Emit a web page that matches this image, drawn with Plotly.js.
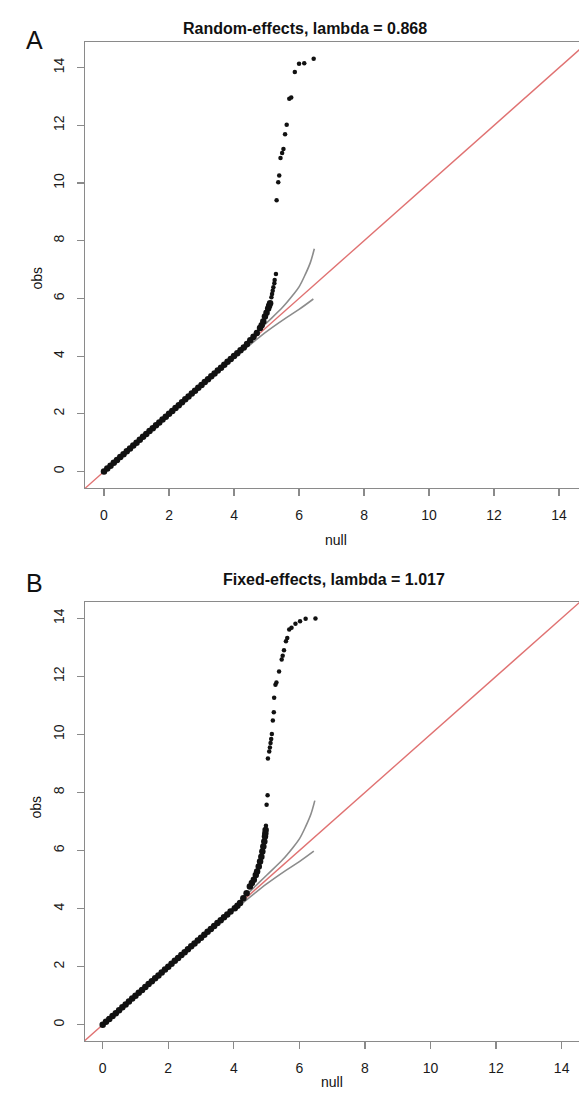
<!DOCTYPE html>
<html>
<head>
<meta charset="utf-8">
<script src="https://cdn.plot.ly/plotly-3.0.1.min.js"></script>
<style>html,body{margin:0;padding:0;background:#fff;overflow:hidden}</style>
</head>
<body>
<div id="chart" style="width:600px;height:1102px"></div>
<script>
// ---------- data ----------
const tickVals = [0, 2, 4, 6, 8, 10, 12, 14];
const refLine = [-1, 16];            // y = x reference line

// Panel A: Random-effects
const aBandX = [0,0.1,0.2,0.3,0.4,0.5,0.6,0.7,0.8,0.9,1.0,1.1,1.2,1.3,1.4,1.5,1.6,1.7,1.8,1.9,2.0,2.1,2.2,2.3,2.4,2.5,2.6,2.7,2.8,2.9,3.0,3.1,3.2,3.3,3.4,3.5,3.6,3.7,3.8,3.9,4.0,4.1,4.2,4.3,4.4,4.5,4.6,4.7,4.8,4.85,4.9,4.95,5.0,5.05,5.08,5.11];
const aBandY = [0,0.1,0.2,0.3,0.4,0.5,0.6,0.7,0.8,0.9,1.0,1.1,1.2,1.3,1.4,1.5,1.6,1.7,1.8,1.9,2.0,2.1,2.2,2.3,2.4,2.5,2.6,2.7,2.8,2.9,3.0,3.1,3.2,3.3,3.4,3.5,3.6,3.7,3.8,3.9,4.0,4.1,4.2,4.3,4.42,4.55,4.67,4.8,4.97,5.07,5.2,5.37,5.5,5.65,5.75,5.83];
const aTailX = [5.15,5.17,5.19,5.21,5.24,5.25,5.29,5.31,5.36,5.39,5.43,5.48,5.52,5.57,5.62,5.70,5.76,5.87,6.00,6.16,6.45];
const aTailY = [6.04,6.15,6.27,6.39,6.53,6.64,6.85,9.40,10.03,10.26,10.87,11.04,11.18,11.69,12.02,12.92,12.97,13.85,14.14,14.15,14.31];

// Panel B: Fixed-effects
const bBandX = [0,0.1,0.2,0.3,0.4,0.5,0.6,0.7,0.8,0.9,1.0,1.1,1.2,1.3,1.4,1.5,1.6,1.7,1.8,1.9,2.0,2.1,2.2,2.3,2.4,2.5,2.6,2.7,2.8,2.9,3.0,3.1,3.2,3.3,3.4,3.5,3.6,3.7,3.8,3.9,4.03,4.11,4.19,4.29,4.39,4.49,4.55,4.61,4.67,4.71,4.76,4.80,4.84,4.87,4.90,4.93,4.95,4.96,4.97];
const bBandY = [0,0.1,0.2,0.3,0.4,0.5,0.6,0.7,0.8,0.9,1.0,1.1,1.2,1.3,1.4,1.5,1.6,1.7,1.8,1.9,2.0,2.1,2.2,2.3,2.4,2.5,2.6,2.7,2.8,2.9,3.0,3.1,3.2,3.3,3.4,3.5,3.6,3.7,3.8,3.9,4.01,4.1,4.19,4.36,4.53,4.76,4.88,4.99,5.16,5.28,5.45,5.62,5.79,5.97,6.14,6.31,6.48,6.59,6.71];
const bTailX = [4.98,5.00,5.03,5.04,5.08,5.10,5.12,5.14,5.16,5.19,5.22,5.23,5.27,5.30,5.38,5.46,5.49,5.53,5.59,5.63,5.69,5.76,5.88,6.02,6.19,6.49];
const bTailY = [6.85,7.58,7.90,9.17,9.41,9.55,9.70,9.84,10.01,10.48,10.76,11.26,11.71,11.79,12.17,12.58,12.71,12.90,13.21,13.32,13.61,13.67,13.81,13.90,13.98,13.99];

// 95% confidence band of the null (same in both panels)
const ciUpX = [0, 4.0, 4.5, 5.0, 5.5, 5.8, 6.0, 6.2, 6.35, 6.47];
const ciUpY = [0, 4.05, 4.6, 5.15, 5.7, 6.1, 6.4, 6.85, 7.25, 7.72];
const ciLoX = [0, 4.0, 4.5, 5.0, 5.5, 6.0, 6.44];
const ciLoY = [0, 3.95, 4.4, 4.85, 5.25, 5.62, 5.98];

// ---------- drawing ----------
const W = 600, H = 1102;
const px = v => v / W, py = v => 1 - v / H;
const RED = '#E07272', GREY = '#8c8c8c';
const FONT = 'Liberation Sans, Arial, sans-serif';

function panel(n, bandX, bandY, tailX, tailY) {
  const xa = n === 1 ? 'x' : 'x2', ya = n === 1 ? 'y' : 'y2';
  return [
    {x: refLine, y: refLine, mode: 'lines', line: {color: RED, width: 1.4}, xaxis: xa, yaxis: ya, hoverinfo: 'skip'},
    {x: ciUpX, y: ciUpY, mode: 'lines', line: {color: GREY, width: 1.6, shape: 'spline'}, xaxis: xa, yaxis: ya},
    {x: ciLoX, y: ciLoY, mode: 'lines', line: {color: GREY, width: 1.6, shape: 'spline'}, xaxis: xa, yaxis: ya},
    {x: bandX, y: bandY, mode: 'markers', marker: {color: '#111', size: 6.5}, xaxis: xa, yaxis: ya},
    {x: tailX, y: tailY, mode: 'markers', marker: {color: '#111', size: 4.5}, xaxis: xa, yaxis: ya}
  ];
}

const data = [].concat(
  panel(1, aBandX, aBandY, aTailX, aTailY),
  panel(2, bBandX, bBandY, bTailX, bTailY)
);

const tickFont = {family: FONT, size: 14, color: '#1a1a1a'};
function ax(extra) {
  return Object.assign({
    showgrid: false, zeroline: false, showline: true, mirror: true,
    linecolor: '#8a8a8a', linewidth: 1.2,
    ticks: 'outside', ticklen: 7, tickwidth: 1.2, tickcolor: '#8a8a8a',
    tickvals: tickVals, ticktext: tickVals.map(String),
    tickfont: tickFont, ticklabelstandoff: 7, fixedrange: true
  }, extra);
}

const lab = (text, x, y, size, angle) => ({text: text, x: px(x), y: py(y), xref: 'paper', yref: 'paper',
  showarrow: false, textangle: angle || 0, font: {family: FONT, size: size, color: '#111'}});

const layout = {
  width: W, height: H,
  margin: {l: 0, r: 0, t: 0, b: 0},
  paper_bgcolor: '#fff', plot_bgcolor: '#fff',
  showlegend: false,
  xaxis:  ax({domain: [px(85), px(588)], range: [-0.585, 14.89], anchor: 'y'}),
  yaxis:  ax({domain: [py(488), py(42)], range: [-0.573, 14.89], anchor: 'x', tickangle: -90}),
  xaxis2: ax({domain: [px(85), px(580)], range: [-0.54, 14.56], anchor: 'y2'}),
  yaxis2: ax({domain: [py(1041), py(602)], range: [-0.56, 14.56], anchor: 'x2', tickangle: -90}),
  annotations: [
    lab('A', 24, 24, 25),
    lab('<b>Random-effects, lambda = 0.868</b>', 305, 18, 16),
    lab('null', 336, 540, 14),
    lab('obs', 26, 265, 14, -90),
    lab('B', 24, 583, 25),
    lab('<b>Fixed-effects, lambda = 1.017</b>', 334, 579, 16),
    lab('null', 332, 1092, 14),
    lab('obs', 26, 821, 14, -90)
  ]
};

Plotly.newPlot('chart', data, layout, {displayModeBar: false, staticPlot: true});
</script>
</body>
</html>
